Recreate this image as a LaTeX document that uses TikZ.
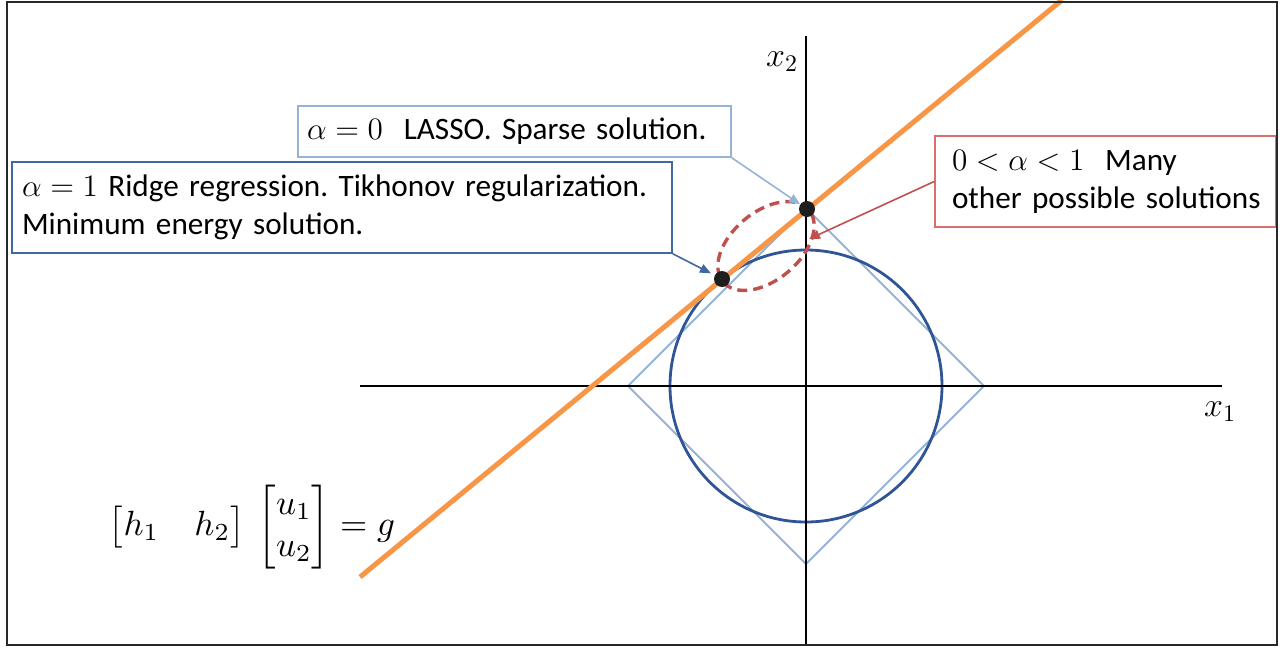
\RequirePackage{fix-cm}
\documentclass[tikz,border=0pt]{standalone}
\usepackage{amsmath}
\usepackage{graphicx}
\usepackage{fontspec}
\setmainfont{Carlito}
\usetikzlibrary{shapes.geometric,arrows.meta}
\definecolor{orangec}{RGB}{247,150,70}
\definecolor{lblue}{RGB}{149,179,215}
\definecolor{dblue}{RGB}{47,85,151}
\definecolor{boxblue}{RGB}{65,105,160}
\definecolor{redc}{RGB}{192,80,77}
\definecolor{redbox}{RGB}{217,110,108}
\definecolor{framec}{RGB}{40,40,40}
\definecolor{dotc}{RGB}{30,30,30}
\frenchspacing
\begin{document}
\begin{tikzpicture}[x=0.5pt,y=-0.5pt,
  txt/.style={font=\fontsize{15.6}{19}\selectfont},
  callout/.style={draw, fill=white, line width=0.8pt, rectangle, inner ysep=0pt, align=left, txt},
  soln/.style={circle, fill=dotc, inner sep=0pt, minimum size=8pt},
  pointer/.style={line width=0.8pt, -{Triangle[length=5.5pt,width=4.5pt]}},
  lbl/.style={font=\fontsize{17}{20}\selectfont, inner sep=0pt}]
\useasboundingbox (0,0) rectangle (1280,648);
% constraint sets
\draw[lblue, line width=1pt] (628,386) -- (806,208) -- (984,386) -- (806,564) -- cycle;
\draw[dblue, line width=1.4pt] (806,386) circle [radius=68pt];
% axes
\coordinate (xa) at (360,386);
\coordinate (xb) at (1222,386);
\coordinate (ya) at (806,36);
\coordinate (yb) at (806,645);
\draw[black, line width=1pt] (xa) -- (xb);
\draw[black, line width=1pt] (ya) -- (yb);
\node[lbl] (x1) at (1220,412) {$x_1$};
\node[lbl] (x2) at (782,62) {$x_2$};
% constraint line
\coordinate (la) at (360,577);
\coordinate (lb) at (1062,0);
\draw[orangec, line width=2.5pt] (la) -- (lb);
% ellipse of intermediate solutions
\node[ellipse, draw=redc, line width=1.7pt, dash pattern=on 5pt off 3pt, minimum width=56pt, minimum height=34pt, inner sep=0pt, rotate=40] (ell) at (766,246) {};
% solution points
\node[soln] (dotA) at (807,209) {};
\node[soln] (dotB) at (722,279) {};
% callouts
\node[callout, draw=lblue, inner xsep=4.5pt, text width=207.5pt, minimum height=25.5pt] (lasso) at (514.5,131.5)
  {\mbox{$\alpha=0$\ \ LASSO. Sparse solution.}};
\node[callout, draw=boxblue, inner xsep=5pt, text width=320pt, minimum height=45.5pt] (ridge) at (342,207.5)
  {\mbox{$\alpha=1$ Ridge regression. Tikhonov regularization.}\\\mbox{Minimum energy solution.}};
\node[callout, draw=redbox, inner xsep=8.5pt, text width=153.5pt, minimum height=45.5pt] (many) at (1105.5,181.5)
  {\mbox{$0<\alpha<1$\ \ Many}\\\mbox{other possible solutions}};
\coordinate (redtip) at (809,239);
\draw[pointer, lblue] (lasso.south east) -- (dotA);
\draw[pointer, boxblue, shorten >=2pt] (ridge.south east) -- (dotB);
\draw[pointer, redc] (many.west) -- (redtip);
% equation
\node (eq) at (252,527) {\scalebox{1.75}{$\begin{bmatrix}h_1 & h_2\end{bmatrix}\hskip 2pt\begin{bmatrix}u_1\\u_2\end{bmatrix}=g$}};
% frame
\draw[framec, line width=1.3pt] (7,2) rectangle (1277,645);
\end{tikzpicture}
\end{document}
